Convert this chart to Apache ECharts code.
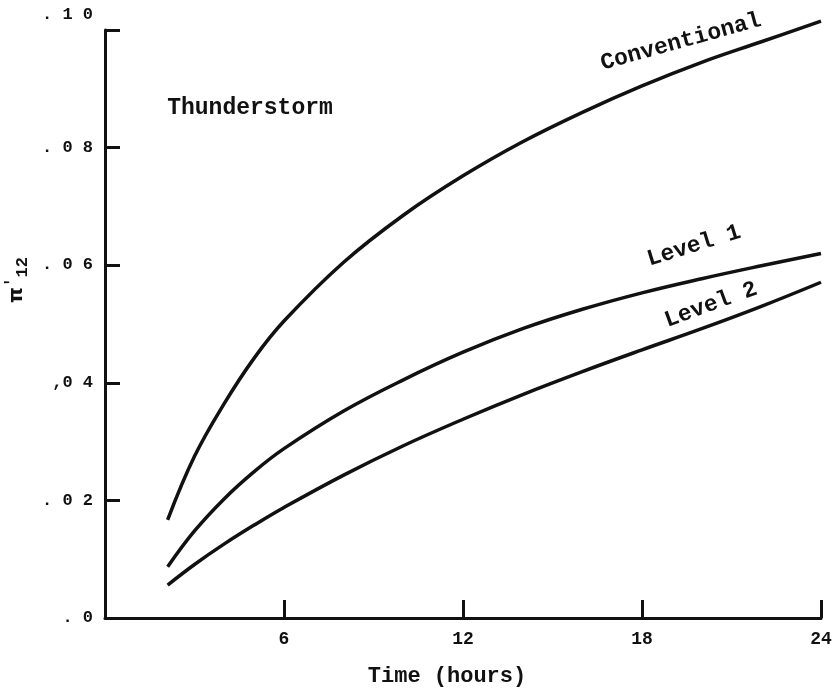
<!DOCTYPE html>
<html>
<head>
<meta charset="utf-8">
<script src="https://cdn.jsdelivr.net/npm/echarts@6/dist/echarts.min.js"></script>
<style>
  html, body { margin: 0; padding: 0; background: #fff; }
  #chart { width: 838px; height: 690px; }
</style>
</head>
<body>
<div id="chart"></div>
<script>
// time in hours
const hours = [2.1, 3, 4, 5, 6, 8, 10, 12, 14, 16, 18, 20, 22, 24]
const conventional = [0.0167, 0.0275, 0.0365, 0.0442, 0.0505, 0.0605, 0.0685, 0.0752, 0.081, 0.086, 0.0905, 0.0945, 0.098, 0.1015]
const level1 = [0.0087, 0.0148, 0.0203, 0.0249, 0.0288, 0.0352, 0.0405, 0.0452, 0.0492, 0.0525, 0.0553, 0.0577, 0.0599, 0.062]
const level2 = [0.0056, 0.0091, 0.0126, 0.0158, 0.0188, 0.0243, 0.0293, 0.0338, 0.038, 0.0419, 0.0456, 0.0492, 0.053, 0.0571]
const yTickLabels = ['. 0', '. 0 2', ',0 4', '. 0 6', '. 0 8', '. 1 0']

const font = '"Liberation Mono", "DejaVu Sans Mono", monospace'
const ink = '#111'

const pairs = (ys) => hours.map((h, i) => [h, ys[i]])

const lineSeries = (name, ys) => ({
  name,
  type: 'line',
  data: pairs(ys),
  smooth: 0.4,
  symbol: 'none',
  clip: false,
  lineStyle: { color: ink, width: 3.5 },
})

const chart = echarts.init(document.getElementById('chart'))
chart.setOption({
  backgroundColor: '#fff',
  animation: false,
  grid: { left: 105, right: 17, top: 30, bottom: 72, outerBoundsMode: 'none', containLabel: false },
  xAxis: {
    type: 'value',
    min: 0,
    max: 24,
    interval: 6,
    name: 'Time (hours)',
    nameLocation: 'middle',
    nameGap: 47,
    nameTextStyle: { color: ink, fontFamily: font, fontSize: 22, fontWeight: 'bold', padding: [0, 32, 0, 0] },
    axisLine: { lineStyle: { color: ink, width: 3 } },
    axisTick: { inside: true, length: 18, lineStyle: { color: ink, width: 3 } },
    axisLabel: {
      color: ink, fontFamily: font, fontSize: 18, fontWeight: 'bold', margin: 12,
      formatter: (v) => (v === 0 ? '' : String(v)),
    },
    splitLine: { show: false },
  },
  yAxis: {
    type: 'value',
    min: 0,
    max: 0.1,
    interval: 0.02,
    name: '{p|π}{q|\'}{s|12}',
    nameLocation: 'middle',
    nameRotate: 90,
    nameGap: 74,
    nameTextStyle: {
      padding: [0, 0, 0, 88],
      rich: {
        p: { color: ink, fontFamily: 'DejaVu Sans', fontSize: 20, fontWeight: 'bold' },
        q: { color: ink, fontFamily: font, fontSize: 16, fontWeight: 'bold', padding: [0, 0, 10, 0] },
        s: { color: ink, fontFamily: font, fontSize: 17, fontWeight: 'bold', padding: [12, 0, 0, 0] },
      },
    },
    axisLine: { lineStyle: { color: ink, width: 3 } },
    axisTick: { inside: true, length: 15, lineStyle: { color: ink, width: 3 } },
    axisLabel: {
      color: ink, fontFamily: font, fontSize: 17, fontWeight: 'bold', margin: 12,
      formatter: (v) => {
        const i = Math.round(v / 0.02)
        return i === 5 ? '{top|' + yTickLabels[i] + '}' : yTickLabels[i]
      },
      rich: {
        top: { color: ink, fontFamily: font, fontSize: 17, fontWeight: 'bold', padding: [0, 0, 30, 0] },
      },
    },
    splitLine: { show: false },
  },
  series: [
    lineSeries('Conventional', conventional),
    lineSeries('Level 1', level1),
    lineSeries('Level 2', level2),
  ],
  graphic: [
    { type: 'text', x: 250, y: 108, style: { text: 'Thunderstorm', font: 'bold 23px ' + font, fill: ink, align: 'center', verticalAlign: 'middle' } },
    { type: 'text', x: 681, y: 42, rotation: 0.27, style: { text: 'Conventional', font: 'bold 23px ' + font, fill: ink, align: 'center', verticalAlign: 'middle' } },
    { type: 'text', x: 694, y: 246, rotation: 0.3, style: { text: 'Level 1', font: 'bold 23px ' + font, fill: ink, align: 'center', verticalAlign: 'middle' } },
    { type: 'text', x: 711, y: 305, rotation: 0.35, style: { text: 'Level 2', font: 'bold 23px ' + font, fill: ink, align: 'center', verticalAlign: 'middle' } },
  ],
})
</script>
</body>
</html>
